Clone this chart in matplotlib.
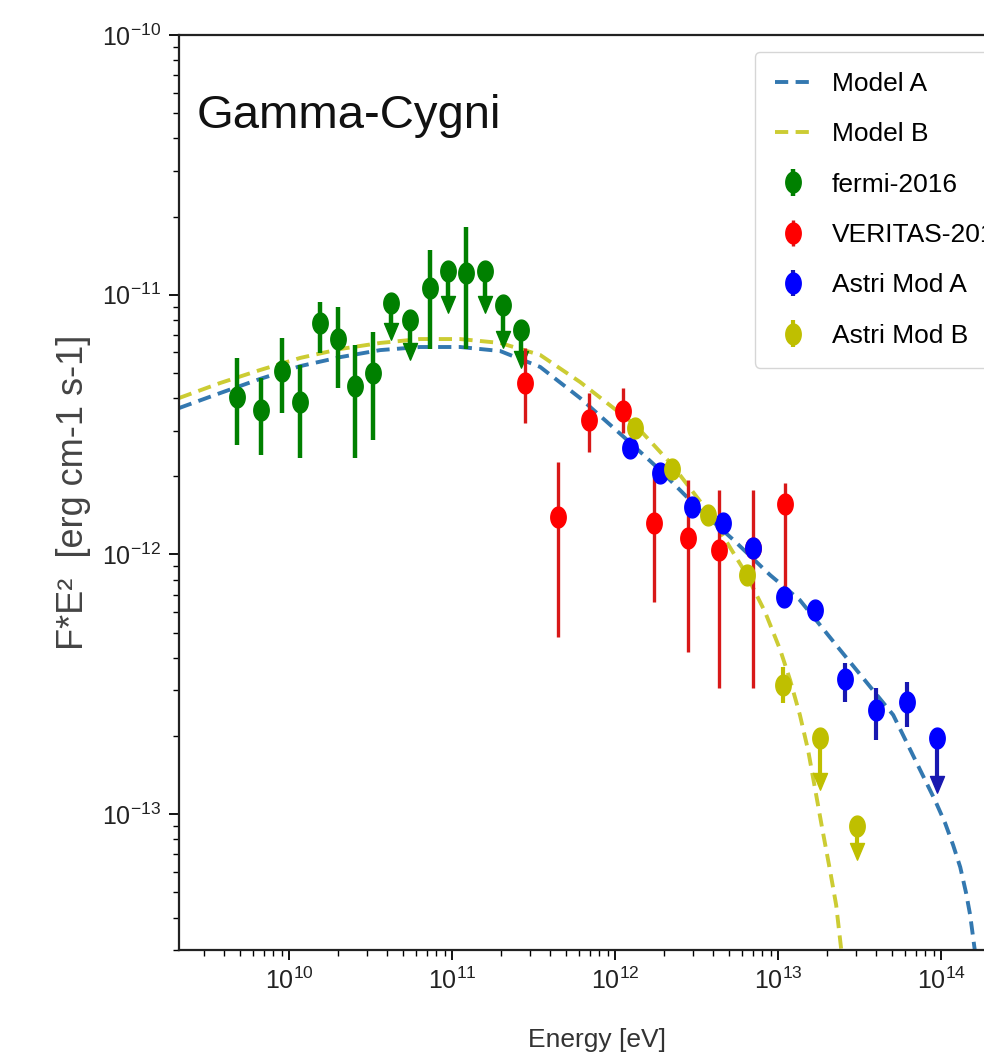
import numpy as np
import matplotlib
matplotlib.use('Agg')
import matplotlib.pyplot as plt
from matplotlib.path import Path
from matplotlib.ticker import NullFormatter

# ---- model curves ----
modelA_E = [2.11e9, 3.77e9, 6.64e9, 1.17e10, 2.06e10, 3.62e10, 6.36e10, 1.12e11, 1.97e11,
            3.47e11, 6.10e11, 1.24e12, 1.89e12, 3.32e12, 5.30e12, 8.93e12, 1.36e13,
            2.40e13, 5.08e13, 9.18e13, 1.058e14, 1.185e14, 1.31e14, 1.423e14, 1.507e14,
            1.594e14, 1.687e14]
modelA_F = [3.66e-12, 4.18e-12, 4.74e-12, 5.31e-12, 5.75e-12, 6.12e-12, 6.29e-12, 6.29e-12,
            6.07e-12, 5.27e-12, 4.00e-12, 2.69e-12, 2.11e-12, 1.48e-12, 1.14e-12, 8.33e-13,
            6.67e-13, 4.29e-13, 2.41e-13, 1.13e-13, 9.24e-14, 7.60e-14, 6.25e-14, 4.97e-14,
            4.09e-14, 3.13e-14, 2.40e-14]

modelB_E = [2.11e9, 3.77e9, 6.64e9, 1.17e10, 2.06e10, 3.62e10, 6.36e10, 1.12e11, 1.97e11,
            3.47e11, 6.10e11, 1.33e12, 2.24e12, 3.72e12, 6.28e12, 8.32e12, 1.03e13, 1.185e13,
            1.36e13, 1.528e13, 1.69e13, 1.862e13, 2.08e13, 2.27e13, 2.44e13, 2.61e13]
modelB_F = [4.00e-12, 4.57e-12, 5.13e-12, 5.71e-12, 6.18e-12, 6.52e-12, 6.75e-12, 6.75e-12,
            6.52e-12, 5.86e-12, 4.61e-12, 3.15e-12, 2.21e-12, 1.46e-12, 8.55e-13, 6.00e-13,
            4.29e-13, 3.28e-13, 2.41e-13, 1.76e-13, 1.24e-13, 8.84e-14, 6.09e-14, 4.47e-14,
            3.00e-14, 2.10e-14]

# ---- fermi-2016 ----
fermi_E = [4.80e9, 6.73e9, 9.06e9, 1.17e10, 1.55e10, 2.00e10, 2.54e10, 3.28e10,
           4.22e10, 5.53e10, 7.33e10, 9.45e10, 1.22e11, 1.59e11, 2.06e11, 2.65e11]
fermi_F = [4.04e-12, 3.60e-12, 5.08e-12, 3.86e-12, 7.78e-12, 6.75e-12, 4.45e-12, 4.99e-12,
           9.29e-12, 7.99e-12, 1.06e-11, 1.23e-11, 1.21e-11, 1.23e-11, 9.12e-12, 7.31e-12]
fermi_lo = [2.64e-12, 2.42e-12, 3.50e-12, 2.35e-12, 5.97e-12, 4.38e-12, 2.35e-12, 2.76e-12,
            7.78e-12, 6.52e-12, 6.20e-12, 9.89e-12, 6.20e-12, 9.89e-12, 7.25e-12, 6.07e-12]
fermi_hi = [5.71e-12, 4.78e-12, 6.82e-12, 5.36e-12, 9.37e-12, 8.97e-12, 6.40e-12, 7.18e-12,
            9.29e-12, 7.99e-12, 1.49e-11, 1.23e-11, 1.82e-11, 1.23e-11, 9.12e-12, 7.31e-12]
fermi_ul = [0, 0, 0, 0, 0, 0, 0, 0, 1, 1, 0, 1, 0, 1, 1, 1]

# ---- VERITAS-2016 ----
veritas_E = [2.81e11, 4.47e11, 6.92e11, 1.12e12, 1.73e12, 2.81e12, 4.35e12, 7.03e12, 1.10e13]
veritas_F = [4.57e-12, 1.39e-12, 3.29e-12, 3.57e-12, 1.32e-12, 1.16e-12, 1.04e-12, 1.06e-12, 1.56e-12]
veritas_lo = [3.21e-12, 4.81e-13, 2.48e-12, 2.93e-12, 6.56e-13, 4.21e-13, 3.06e-13, 3.06e-13, 7.10e-13]
veritas_hi = [6.23e-12, 2.27e-12, 4.18e-12, 4.37e-12, 1.99e-12, 1.93e-12, 1.77e-12, 1.77e-12, 1.88e-12]
veritas_ul = [0, 0, 0, 0, 0, 0, 0, 0, 0]

# ---- Astri Mod A ----
astriA_E = [1.24e12, 1.89e12, 2.97e12, 4.60e12, 7.03e12, 1.09e13, 1.69e13, 2.58e13,
            3.99e13, 6.18e13, 9.45e13]
astriA_F = [2.57e-12, 2.06e-12, 1.52e-12, 1.32e-12, 1.06e-12, 6.86e-13, 6.11e-13, 3.31e-13,
            2.52e-13, 2.70e-13, 1.96e-13]
astriA_lo = [2.45e-12, 1.96e-12, 1.44e-12, 1.25e-12, 1.00e-12, 6.45e-13, 5.70e-13, 2.70e-13,
             1.93e-13, 2.16e-13, 1.40e-13]
astriA_hi = [2.69e-12, 2.16e-12, 1.60e-12, 1.39e-12, 1.12e-12, 7.27e-13, 6.55e-13, 3.82e-13,
             3.06e-13, 3.23e-13, 1.96e-13]
astriA_ul = [0, 0, 0, 0, 0, 0, 0, 0, 0, 0, 1]

# ---- Astri Mod B ----
astriB_E = [1.33e12, 2.24e12, 3.72e12, 6.46e12, 1.07e13, 1.81e13, 3.05e13]
astriB_F = [3.07e-12, 2.13e-12, 1.42e-12, 8.33e-13, 3.14e-13, 1.96e-13, 9.00e-14]
astriB_lo = [2.95e-12, 2.04e-12, 1.36e-12, 7.95e-13, 2.68e-13, 1.44e-13, 7.74e-14]
astriB_hi = [3.19e-12, 2.22e-12, 1.48e-12, 8.70e-13, 3.68e-13, 1.96e-13, 9.00e-14]
astriB_ul = [0, 0, 0, 0, 0, 1, 1]

x_ticks = [1e10, 1e11, 1e12, 1e13, 1e14]
y_ticks = [1e-13, 1e-12, 1e-11, 1e-10]

plt.rcParams['font.family'] = ['Liberation Sans', 'DejaVu Sans']

# slightly tall markers (the original picture is stretched vertically)
t = np.linspace(0, 2 * np.pi, 60)
oval = Path(np.column_stack([0.37 * np.cos(t), 0.5 * np.sin(t)]), closed=True)
arrow = Path([[-0.42, 0.0], [0.42, 0.0], [0.0, -1.0], [-0.42, 0.0]], closed=True)

fig = plt.figure(figsize=(9.84, 10.6), dpi=100)
ax = fig.add_axes([0.1819, 0.1038, 0.8486, 0.8632])
ax.set_xscale('log')
ax.set_yscale('log')

ax.plot(modelA_E, modelA_F, color='#3378b0', lw=2.8, ls=(0, (3.4, 1.9)), label='Model A', zorder=2)
ax.plot(modelB_E, modelB_F, color='#cccc33', lw=2.8, ls=(0, (3.4, 1.9)), label='Model B', zorder=2)


def draw(E, F, lo, hi, ul, color, ecolor, elw, label):
    E, F, lo, hi = map(np.asarray, (E, F, lo, hi))
    ul = np.asarray(ul, dtype=bool)
    ax.errorbar(E, F, yerr=[F - lo, hi - F], linestyle='none', marker=oval, ms=15,
                color=color, mec=color, ecolor=ecolor, elinewidth=elw,
                label=label, zorder=3)
    if ul.any():
        ax.plot(E[ul], lo[ul], linestyle='none', marker=arrow, ms=24,
                color=ecolor, mec=ecolor, zorder=3)


draw(fermi_E, fermi_F, fermi_lo, fermi_hi, fermi_ul, 'green', 'green', 3.2, 'fermi-2016')
draw(veritas_E, veritas_F, veritas_lo, veritas_hi, veritas_ul, 'red', '#d81818', 2.4, 'VERITAS-2016')
draw(astriA_E, astriA_F, astriA_lo, astriA_hi, astriA_ul, 'blue', '#1818b0', 3.0, 'Astri Mod A')
draw(astriB_E, astriB_F, astriB_lo, astriB_hi, astriB_ul, 'y', 'y', 3.0, 'Astri Mod B')

ax.set_xlim(2.11e9, 2.80e14)
ax.set_ylim(3.0e-14, 1e-10)
ax.set_xticks(x_ticks)
ax.set_yticks(y_ticks)
ax.xaxis.set_minor_formatter(NullFormatter())
ax.yaxis.set_minor_formatter(NullFormatter())

for s in ax.spines.values():
    s.set_linewidth(1.6)
    s.set_color('#222222')
ax.tick_params(which='major', direction='out', length=7, width=1.3, labelsize=18,
               pad=6, labelcolor='#222222')
ax.tick_params(which='minor', direction='out', length=4, width=1.0)

ax.set_xlabel('Energy [eV]', fontsize=19, color='#333333', labelpad=24)
ax.set_ylabel('F*E²  [erg cm-1 s-1]', fontsize=26, color='#444444', labelpad=8)

ax.text(0.0216, 0.898, 'Gamma-Cygni', transform=ax.transAxes, fontsize=34,
        color='#111111', va='baseline', ha='left')

leg = ax.legend(loc='upper left', bbox_to_anchor=(755 / 984, 1 - 52 / 1060),
                bbox_transform=fig.transFigure, prop={'size': 19},
                handlelength=1.35, labelspacing=1.0, borderpad=0.75, borderaxespad=0)

fig.savefig('out.png', dpi=100)
